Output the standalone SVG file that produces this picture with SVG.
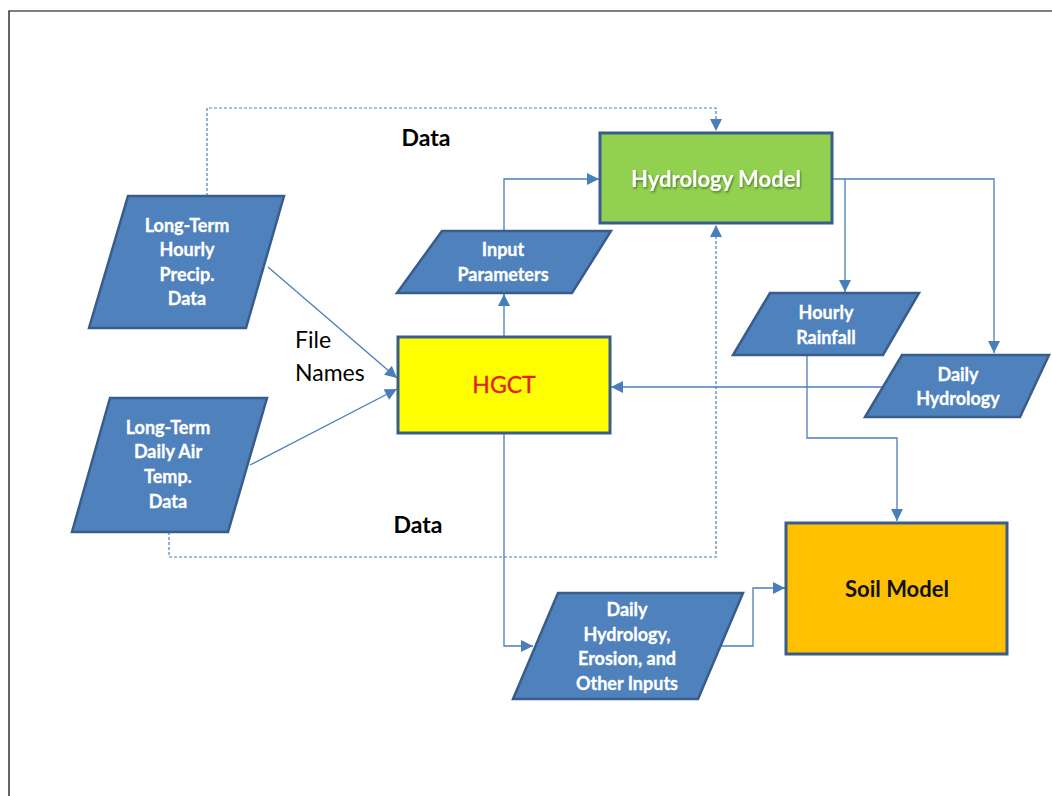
<svg xmlns="http://www.w3.org/2000/svg" width="1052" height="796" viewBox="0 0 1052 796">
<defs>
<marker id="ah" viewBox="0 0 10 10" refX="10" refY="5" markerWidth="13" markerHeight="12" markerUnits="userSpaceOnUse" orient="auto">
<path d="M0,0 L10,5 L0,10 z" fill="#4a7ebb"/>
</marker>
<filter id="sh" x="-10%" y="-30%" width="120%" height="160%">
<feDropShadow dx="1" dy="1.5" stdDeviation="1" flood-color="#000" flood-opacity="0.45"/>
</filter>
<style>
.para{fill:#4f81bd;stroke:#385d8a;stroke-width:2.5;stroke-linejoin:miter}
.ptxt{font-family:Lato,"Liberation Sans",sans-serif;font-weight:bold;font-size:18px;fill:#ffffff;text-anchor:middle;stroke:#ffffff;stroke-width:0.3}
.box{stroke:#385d8a;stroke-width:3}
.conn{fill:none;stroke:#4a7ebb;stroke-width:1.3}
.dash{fill:none;stroke:#4a7ebb;stroke-width:1.2;stroke-dasharray:3 2}
.lbl{font-family:Lato,"Liberation Sans",sans-serif;font-size:23px;fill:#000}
</style>
</defs>
<rect width="1052" height="796" fill="#ffffff"/>
<path d="M9,796 L9,11 L1052,11" fill="none" stroke="#000" stroke-width="1.2"/>

<g id="connectors">
<path class="dash" d="M207,196 L207,108 L716,108 L716,131" marker-end="url(#ah)"/>
<path class="dash" d="M169,532 L169,557 L716,557 L716,225" marker-end="url(#ah)"/>
<path class="conn" d="M268,267 L397,378" marker-end="url(#ah)"/>
<path class="conn" d="M250,465 L397,389" marker-end="url(#ah)"/>
<path class="conn" d="M504,337 L504,294" marker-end="url(#ah)"/>
<path class="conn" d="M504,231 L504,179 L599,179" marker-end="url(#ah)"/>
<path class="conn" d="M832,179 L994,179 L994,353" marker-end="url(#ah)"/>
<path class="conn" d="M845,179 L845,292" marker-end="url(#ah)"/>
<path class="conn" d="M883,387 L611,387" marker-end="url(#ah)"/>
<path class="conn" d="M807,355 L807,438 L897,438 L897,521" marker-end="url(#ah)"/>
<path class="conn" d="M504,433 L504,646 L533,646" marker-end="url(#ah)"/>
<path class="conn" d="M720,646 L753,646 L753,588 L785,588" marker-end="url(#ah)"/>
</g>

<g id="labels">
<text class="lbl" x="426" y="146" font-weight="bold" text-anchor="middle">Data</text>
<text class="lbl" x="418" y="533" font-weight="bold" text-anchor="middle">Data</text>
<text class="lbl" x="295" y="348">File</text>
<text class="lbl" x="295" y="381">Names</text>
</g>

<g id="hourly-precip">
<polygon class="para" points="128,196 284,196 246,328 89,328"/>
<text class="ptxt" x="187" y="232">Long-Term</text>
<text class="ptxt" x="187" y="256">Hourly</text>
<text class="ptxt" x="187" y="281">Precip.</text>
<text class="ptxt" x="187" y="305">Data</text>
</g>

<g id="daily-air-temp">
<polygon class="para" points="110,398 267,398 228,532 72,532"/>
<text class="ptxt" x="168" y="434">Long-Term</text>
<text class="ptxt" x="168" y="458">Daily Air</text>
<text class="ptxt" x="168" y="483">Temp.</text>
<text class="ptxt" x="168" y="508">Data</text>
</g>

<g id="input-parameters">
<polygon class="para" points="442,231 611,231 572,293 397,293"/>
<text class="ptxt" x="503" y="256">Input</text>
<text class="ptxt" x="503" y="281">Parameters</text>
</g>

<g id="hydrology-model">
<rect class="box" x="600" y="133" width="232" height="90" fill="#92d050"/>
<text x="716" y="187" text-anchor="middle" font-family="Lato,'Liberation Sans',sans-serif" font-weight="bold" font-size="22" fill="#ffffff" filter="url(#sh)">Hydrology Model</text>
</g>

<g id="hgct">
<rect class="box" x="398" y="337" width="212" height="96" fill="#ffff00"/>
<text x="504" y="393" text-anchor="middle" font-family="Lato,'Liberation Sans',sans-serif" font-size="23" fill="#e41f1f" stroke="#e41f1f" stroke-width="0.4">HGCT</text>
</g>

<g id="hourly-rainfall">
<polygon class="para" points="770,293 919,293 883,355 733,355"/>
<text class="ptxt" x="826" y="319">Hourly</text>
<text class="ptxt" x="826" y="344">Rainfall</text>
</g>

<g id="daily-hydrology">
<polygon class="para" points="902,355 1049,355 1020,417 865,417"/>
<text class="ptxt" x="958" y="381">Daily</text>
<text class="ptxt" x="958" y="405">Hydrology</text>
</g>

<g id="daily-inputs">
<polygon class="para" points="558,593 743,593 698,699 513,699"/>
<text class="ptxt" x="627" y="616">Daily</text>
<text class="ptxt" x="627" y="641">Hydrology,</text>
<text class="ptxt" x="627" y="665">Erosion, and</text>
<text class="ptxt" x="627" y="690">Other Inputs</text>
</g>

<g id="soil-model">
<rect class="box" x="786" y="523" width="221" height="131" fill="#ffc000"/>
<text x="897" y="597" text-anchor="middle" font-family="Lato,'Liberation Sans',sans-serif" font-size="22" font-weight="bold" fill="#111">Soil Model</text>
</g>
</svg>
